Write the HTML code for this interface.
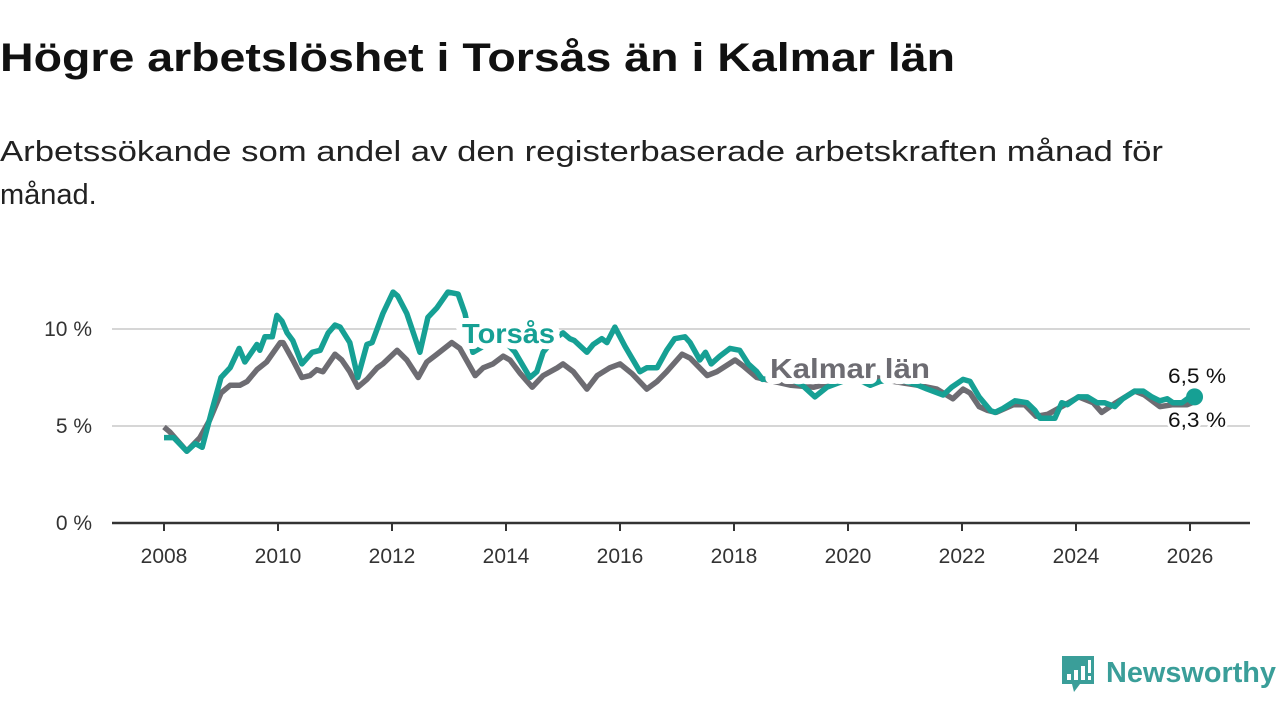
<!DOCTYPE html>
<html><head><meta charset="utf-8">
<style>
html,body{margin:0;padding:0;background:#fff;}
svg{display:block;font-family:"Liberation Sans",sans-serif;}
</style></head>
<body>
<svg id="chart" width="1280" height="720" viewBox="0 0 1280 720">
  <text x="0" y="71" font-size="40" font-weight="bold" fill="#111" textLength="955" lengthAdjust="spacingAndGlyphs">Högre arbetslöshet i Torsås än i Kalmar län</text>
  <text x="0" y="161" font-size="29" fill="#222" textLength="1163" lengthAdjust="spacingAndGlyphs">Arbetssökande som andel av den registerbaserade arbetskraften månad för</text>
  <text x="0" y="204" font-size="29" fill="#222">månad.</text>
  <g id="grid"></g>
  <g id="yticks"></g>
  <g id="xticks"></g>
  <g id="lines"></g>
  <g id="labels"></g>
  <g>
    <path d="M1062 656 h32 v28 h-14 l-6 8 l-2 -8 h-10 z" fill="#3a9e99"/>
    <rect x="1067" y="674" width="4" height="6" fill="#fff"/>
    <rect x="1074" y="670" width="4" height="10" fill="#fff"/>
    <rect x="1081" y="666" width="4" height="14" fill="#fff"/>
    <rect x="1088" y="660" width="3" height="13" fill="#fff"/>
    <rect x="1088" y="676" width="3" height="4" fill="#fff"/>
    <text x="1106" y="682" font-size="29" fill="#3a9e99" font-weight="bold" textLength="170" lengthAdjust="spacingAndGlyphs">Newsworthy</text>
  </g>
</svg>
<script>
const torsasDates = [2008.0,2008.17,2008.4,2008.55,2008.67,2008.84,2009.0,2009.16,2009.32,2009.42,2009.63,2009.68,2009.77,2009.9,2009.98,2010.07,2010.16,2010.26,2010.42,2010.6,2010.74,2010.88,2011.0,2011.09,2011.26,2011.4,2011.56,2011.65,2011.84,2012.02,2012.1,2012.26,2012.49,2012.63,2012.79,2012.98,2013.16,2013.28,2013.42,2013.54,2013.75,2014.0,2014.16,2014.42,2014.54,2014.65,2014.85,2015.0,2015.12,2015.2,2015.42,2015.53,2015.68,2015.77,2015.91,2016.09,2016.35,2016.47,2016.65,2016.82,2016.96,2017.14,2017.23,2017.4,2017.5,2017.6,2017.75,2017.93,2018.1,2018.25,2018.4,2018.5,2018.8,2019.0,2019.2,2019.42,2019.63,2019.9,2020.1,2020.39,2020.56,2020.8,2021.0,2021.23,2021.39,2021.67,2021.82,2022.02,2022.14,2022.3,2022.5,2022.58,2022.72,2022.93,2023.14,2023.28,2023.37,2023.63,2023.75,2023.85,2024.04,2024.2,2024.37,2024.5,2024.68,2024.82,2025.03,2025.18,2025.33,2025.47,2025.6,2025.7,2025.86,2026.0,2026.08];
const torsasValues = [4.4,4.4,3.7,4.1,3.9,5.8,7.5,8.0,9.0,8.3,9.2,8.9,9.6,9.6,10.7,10.4,9.8,9.4,8.2,8.8,8.9,9.8,10.2,10.1,9.3,7.5,9.2,9.3,10.8,11.9,11.7,10.8,8.8,10.6,11.1,11.9,11.8,10.8,8.8,9.0,9.4,9.3,8.8,7.5,7.8,8.8,9.5,9.8,9.5,9.4,8.8,9.2,9.5,9.3,10.1,9.1,7.8,8.0,8.0,8.9,9.5,9.6,9.3,8.4,8.8,8.2,8.6,9.0,8.9,8.2,7.8,7.4,7.5,7.4,7.1,6.5,7.0,7.3,7.5,7.1,7.3,7.4,7.3,7.1,6.9,6.6,7.0,7.4,7.3,6.5,5.8,5.7,5.9,6.3,6.2,5.8,5.4,5.4,6.2,6.1,6.5,6.5,6.2,6.2,6.0,6.4,6.8,6.8,6.5,6.3,6.4,6.2,6.2,6.5,6.5];
const kalmarDates = [2008.0,2008.1,2008.4,2008.63,2008.8,2009.0,2009.16,2009.33,2009.46,2009.63,2009.8,2010.04,2010.09,2010.26,2010.42,2010.56,2010.68,2010.79,2011.0,2011.12,2011.26,2011.4,2011.56,2011.74,2011.84,2012.09,2012.26,2012.46,2012.61,2012.79,2013.05,2013.19,2013.46,2013.6,2013.77,2013.95,2014.07,2014.25,2014.46,2014.65,2014.9,2015.0,2015.18,2015.42,2015.6,2015.82,2016.0,2016.21,2016.47,2016.65,2016.82,2017.09,2017.23,2017.53,2017.7,2018.02,2018.16,2018.4,2018.7,2019.0,2019.4,2019.8,2020.2,2020.5,2020.8,2021.0,2021.23,2021.56,2021.84,2022.02,2022.14,2022.3,2022.45,2022.6,2022.9,2023.1,2023.3,2023.5,2023.75,2024.05,2024.3,2024.45,2024.7,2025.03,2025.2,2025.47,2025.7,2025.95,2026.12];
const kalmarValues = [4.95,4.7,3.7,4.4,5.3,6.7,7.1,7.1,7.3,7.9,8.3,9.3,9.3,8.4,7.5,7.6,7.9,7.8,8.7,8.4,7.8,7.0,7.4,8.0,8.2,8.9,8.4,7.5,8.3,8.7,9.3,9.0,7.6,8.0,8.2,8.6,8.4,7.7,7.0,7.6,8.0,8.2,7.8,6.9,7.6,8.0,8.2,7.7,6.9,7.3,7.8,8.7,8.5,7.6,7.8,8.4,8.1,7.5,7.3,7.1,7.0,7.3,7.6,7.5,7.3,7.2,7.1,6.9,6.4,6.9,6.7,6.0,5.8,5.7,6.1,6.1,5.5,5.6,6.0,6.5,6.2,5.7,6.2,6.8,6.6,6.0,6.1,6.1,6.3];
const yTicks = [0,5,10];
const yTickLabels = ["0 %","5 %","10 %"];
const xTicks = [2008,2010,2012,2014,2016,2018,2020,2022,2024,2026];

const NS="http://www.w3.org/2000/svg";
const X0=164, X1=1190, Y0=523, PX=19.4;
const xs = d => X0 + (d-2008)*(X1-X0)/18;
const ys = v => Y0 - v*PX;
function mk(tag, attrs, parent){const e=document.createElementNS(NS,tag);for(const k in attrs)e.setAttribute(k,attrs[k]);parent.appendChild(e);return e;}

const grid=document.getElementById('grid');
const yt=document.getElementById('yticks');
yTicks.forEach((t,i)=>{
  if(t>0){
    const l=mk('line',{x1:112,x2:1250,y1:ys(t),y2:ys(t),stroke:'#d6d6d6','stroke-width':2},grid);
    
    
  }
  const tx=mk('text',{x:92,y:ys(t)+7,'font-size':21,fill:'#333','text-anchor':'end'},yt);
  tx.textContent=yTickLabels[i];
  
  
});
const xt=document.getElementById('xticks');
const ax=mk('line',{x1:112,x2:1250,y1:Y0,y2:Y0,stroke:'#333','stroke-width':2.5},xt);


xTicks.forEach(t=>{
  const tk=mk('line',{x1:xs(t),x2:xs(t),y1:Y0,y2:Y0+8,stroke:'#333','stroke-width':2},xt);
  
  
  const tx=mk('text',{x:xs(t),y:563,'font-size':21,fill:'#333','text-anchor':'middle'},xt);
  tx.textContent=t;
  
  
});
const lines=document.getElementById('lines');
function path(dates,vals){return dates.map((d,i)=>(i?'L':'M')+xs(d).toFixed(1)+' '+ys(vals[i]).toFixed(1)).join(' ');}
const kl=mk('path',{d:path(kalmarDates,kalmarValues),fill:'none',stroke:'#6d6c72','stroke-width':5.5,'stroke-linejoin':'round'},lines);


const tl=mk('path',{d:path(torsasDates,torsasValues),fill:'none',stroke:'#16a094','stroke-width':5.5,'stroke-linejoin':'round'},lines);


const lastT=torsasValues.length-1;
const dot=mk('circle',{cx:xs(torsasDates[lastT]),cy:ys(torsasValues[lastT]),r:8.5,fill:'#16a094'},lines);



const lab=document.getElementById('labels');
function label(txt,x,y,size,color,bold,name,len){
  const a={x:x,y:y,'font-size':size,fill:color,'font-weight':bold?'bold':'normal',stroke:'#fff','stroke-width':bold?12:5,'paint-order':'stroke','stroke-linejoin':'round'};
  if(len){a.textLength=len;a.lengthAdjust='spacingAndGlyphs';}
  const t=mk('text',a,lab);
  t.textContent=txt;
  
  
}
label('Torsås',462,343,28,'#16a094',true,'torsas-label',93);
label('Kalmar län',770,378,28,'#6d6c72',true,'kalmar-label',160);
label('6,5 %',1168,383,21,'#111',false,'torsas-end-value',58);
label('6,3 %',1168,427,21,'#111',false,'kalmar-end-value',58);
</script>
</body></html>
